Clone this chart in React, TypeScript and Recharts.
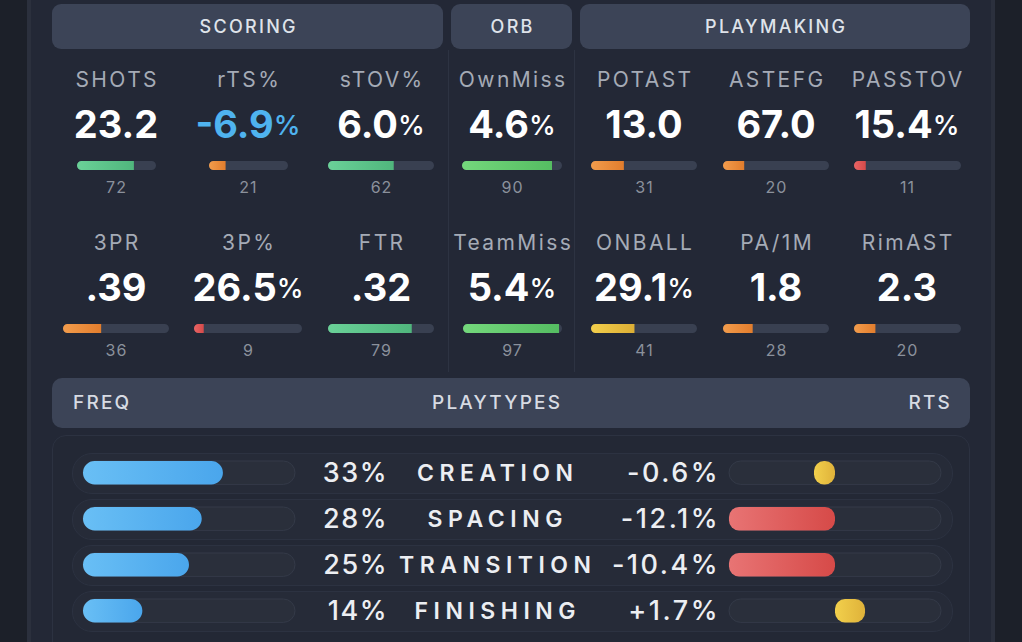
import React from 'react';
import { BarChart, Bar, XAxis, YAxis } from 'recharts';

// ---------- DATA ----------
const groupLabels = ['SCORING', 'ORB', 'PLAYMAKING'];
const statLabels = ['SHOTS', 'rTS%', 'sTOV%', 'OwnMiss', 'POTAST', 'ASTEFG', 'PASSTOV', '3PR', '3P%', 'FTR', 'TeamMiss', 'ONBALL', 'PA/1M', 'RimAST'];
const statValues = ['23.2', '-6.9', '6.0', '4.6', '13.0', '67.0', '15.4', '.39', '26.5', '.32', '5.4', '29.1', '1.8', '2.3'];
const statSuffixes = ['', '%', '%', '%', '', '', '%', '', '%', '', '%', '%', '', ''];
const statPercentiles = [72, 21, 62, 90, 31, 20, 11, 36, 9, 79, 97, 41, 28, 20];
const highlightedStat = 'rTS%';

const playtypeHeaders = ['FREQ', 'PLAYTYPES', 'RTS'];
const playtypeNames = ['CREATION', 'SPACING', 'TRANSITION', 'FINISHING'];
const playtypeFreq = [33, 28, 25, 14];
const playtypeRts = [-0.6, -12.1, -10.4, 1.7];

// ---------- LAYOUT / STYLE ----------
const FONT = 'Inter, "Noto Sans", sans-serif';
const colCenters = [115, 247, 380, 511, 643, 775, 906];
const pctBarWidths = [79, 79, 106, 100, 106, 106, 107, 106, 108, 106, 99, 106, 106, 107];
const rowOffset = 163;
const groupPills = [
  { x: 52, w: 391 },
  { x: 451, w: 121 },
  { x: 580, w: 390 },
];
const FREQ_MAX = 50;
const RTS_LIMIT = 6;

function pctColors(p: number): [string, string] {
  if (p >= 80) return ['#74d87c', '#55bd62'];
  if (p >= 60) return ['#6ad198', '#50b67d'];
  if (p >= 40) return ['#f2cf4c', '#dcae35'];
  if (p >= 20) return ['#f29c4c', '#e27d2d'];
  return ['#ea6464', '#d54a4a'];
}

function PctBar({ value, width, id }: { value: number; width: number; id: string }) {
  const c = pctColors(value);
  return (
    <BarChart layout="vertical" width={width} height={10} data={[{ name: 'p', v: value }]} margin={{ top: 0, right: 0, bottom: 0, left: 0 }}>
      <defs>
        <linearGradient id={id} x1="0" y1="0" x2="1" y2="0">
          <stop offset="0%" stopColor={c[0]} />
          <stop offset="100%" stopColor={c[1]} />
        </linearGradient>
      </defs>
      <XAxis type="number" domain={[0, 100]} hide />
      <YAxis type="category" dataKey="name" hide />
      <Bar dataKey="v" barSize={10} fill={`url(#${id})`} radius={[5, 0, 0, 5]} background={{ fill: '#394051', radius: 5 } as any} isAnimationActive={false} />
    </BarChart>
  );
}

function FreqBar({ value, id }: { value: number; id: string }) {
  return (
    <BarChart layout="vertical" width={214} height={28} data={[{ name: 'f', v: value }]} margin={{ top: 1, right: 1, bottom: 1, left: 1 }}>
      <defs>
        <linearGradient id={id} x1="0" y1="0" x2="1" y2="0">
          <stop offset="0%" stopColor="#69bff5" />
          <stop offset="100%" stopColor="#4aa6ec" />
        </linearGradient>
      </defs>
      <XAxis type="number" domain={[0, FREQ_MAX]} hide />
      <YAxis type="category" dataKey="name" hide />
      <Bar dataKey="v" barSize={26} fill={`url(#${id})`} radius={13} background={{ fill: '#2a2f3b', stroke: '#343a48', strokeWidth: 1, radius: 13 } as any} isAnimationActive={false} />
    </BarChart>
  );
}

function RtsBar({ value, id }: { value: number; id: string }) {
  const v = Math.max(-RTS_LIMIT, Math.min(RTS_LIMIT, value));
  const bad = value <= -5;
  const c0 = bad ? '#e87474' : '#f2d04c';
  const c1 = bad ? '#d64a48' : '#dfb23a';
  return (
    <BarChart layout="vertical" width={214} height={28} data={[{ name: 'r', v }]} margin={{ top: 1, right: 1, bottom: 1, left: 1 }}>
      <defs>
        <linearGradient id={id} x1="0" y1="0" x2="1" y2="0">
          <stop offset="0%" stopColor={c0} />
          <stop offset="100%" stopColor={c1} />
        </linearGradient>
      </defs>
      <XAxis type="number" domain={[-RTS_LIMIT, RTS_LIMIT]} hide />
      <YAxis type="category" dataKey="name" hide />
      <Bar dataKey="v" barSize={26} minPointSize={21} fill={`url(#${id})`} radius={10} background={{ fill: '#2a2f3b', stroke: '#343a48', strokeWidth: 1, radius: 13 } as any} isAnimationActive={false} />
    </BarChart>
  );
}

function CenterText({ cx, cy, w, h, style, children }: any) {
  return (
    <div style={{ position: 'absolute', left: cx - w / 2, top: cy - h / 2, width: w, height: h, lineHeight: `${h}px`, textAlign: 'center', whiteSpace: 'nowrap', ...style }}>
      {children}
    </div>
  );
}

export default function App() {
  return (
    <div style={{ position: 'fixed', left: 0, top: 0, width: 1022, height: 642, overflow: 'hidden', background: '#1c2029', fontFamily: FONT }}>
      {/* card */}
      <div style={{ position: 'absolute', left: 27, top: -10, width: 968, height: 700, background: '#232836', borderLeft: '4px solid #2b303d', borderRight: '4px solid #2b303d', boxSizing: 'border-box' }} />

      {/* group header pills */}
      {groupPills.map((g, i) => (
        <div key={groupLabels[i]} style={{ position: 'absolute', left: g.x, top: 4, width: g.w, height: 45, borderRadius: 9, background: '#3c4457', color: '#dfe3ea', fontSize: 18, fontWeight: 500, letterSpacing: 2.3, lineHeight: '45px', textAlign: 'center', paddingLeft: 2.3, boxSizing: 'border-box' }}>
          {groupLabels[i]}
        </div>
      ))}

      {/* dividers */}
      <div style={{ position: 'absolute', left: 448, top: 50, width: 1, height: 322, background: '#2d3342' }} />
      <div style={{ position: 'absolute', left: 574, top: 50, width: 1, height: 322, background: '#2d3342' }} />

      {/* stats */}
      {statLabels.map((label, i) => {
        const col = i % 7;
        const row = Math.floor(i / 7);
        const cx = colCenters[col];
        const dy = row * rowOffset;
        const bw = pctBarWidths[i];
        const valueColor = label === highlightedStat ? '#4fb3ef' : '#ffffff';
        return (
          <React.Fragment key={label}>
            <CenterText cx={cx + 1} cy={80 + dy} w={130} h={26} style={{ color: '#a5abb6', fontSize: 21, letterSpacing: 2.4, paddingLeft: 2.4, boxSizing: 'border-box' }}>
              {label}
            </CenterText>
            <CenterText cx={cx + 1} cy={124 + dy} w={140} h={44} style={{ color: valueColor, fontSize: 38, fontWeight: 700 }}>
              {statValues[i]}
              {statSuffixes[i] && (
                <span style={{ fontSize: 27, fontWeight: 500, position: 'relative', top: -3 }}>{statSuffixes[i]}</span>
              )}
            </CenterText>
            <div style={{ position: 'absolute', left: cx + 1 - bw / 2, top: 160 + dy }}>
              <PctBar value={statPercentiles[i]} width={bw} id={`pg${i}`} />
            </div>
            <CenterText cx={cx + 1} cy={187 + dy} w={60} h={18} style={{ color: '#8b919c', fontSize: 16, letterSpacing: 1, paddingLeft: 1, boxSizing: 'border-box' }}>
              {statPercentiles[i]}
            </CenterText>
          </React.Fragment>
        );
      })}

      {/* playtypes header */}
      <div style={{ position: 'absolute', left: 52, top: 378, width: 918, height: 50, borderRadius: 10, background: '#3c4457' }} />
      <div style={{ position: 'absolute', left: 73, top: 378, height: 50, lineHeight: '50px', color: '#d7dbe3', fontSize: 19, fontWeight: 500, letterSpacing: 2.2 }}>{playtypeHeaders[0]}</div>
      <CenterText cx={496} cy={403} w={200} h={50} style={{ color: '#d7dbe3', fontSize: 19, fontWeight: 500, letterSpacing: 2.2, paddingLeft: 2.2, boxSizing: 'border-box' }}>{playtypeHeaders[1]}</CenterText>
      <div style={{ position: 'absolute', right: 1022 - 952, top: 378, height: 50, lineHeight: '50px', color: '#d7dbe3', fontSize: 19, fontWeight: 500, letterSpacing: 2.2 }}>{playtypeHeaders[2]}</div>

      {/* playtypes container */}
      <div style={{ position: 'absolute', left: 52, top: 435, width: 918, height: 240, borderRadius: 14, border: '1px solid #2c3241', background: '#232835', boxSizing: 'border-box' }} />

      {playtypeNames.map((name, i) => {
        const cy = 473 + i * 46;
        const r = playtypeRts[i];
        const rtsText = `${r > 0 ? '+' : ''}${r.toFixed(1)}%`;
        return (
          <React.Fragment key={name}>
            <div style={{ position: 'absolute', left: 72, top: cy - 20, width: 881, height: 41, borderRadius: 20, background: '#262b38', border: '1px solid #2c3241', boxSizing: 'border-box' }} />
            <div style={{ position: 'absolute', left: 82, top: cy - 14 }}>
              <FreqBar value={playtypeFreq[i]} id={`fq${i}`} />
            </div>
            <div style={{ position: 'absolute', right: 1022 - 388, top: cy - 17, height: 34, lineHeight: '34px', color: '#eceef2', fontSize: 27, fontWeight: 500, letterSpacing: 1.5, whiteSpace: 'nowrap' }}>
              {playtypeFreq[i]}%
            </div>
            <CenterText cx={495} cy={cy} w={220} h={34} style={{ color: '#eceef2', fontSize: 23, fontWeight: 600, letterSpacing: 5.5, paddingLeft: 5.5, boxSizing: 'border-box' }}>
              {name}
            </CenterText>
            <div style={{ position: 'absolute', right: 1022 - 720, top: cy - 17, height: 34, lineHeight: '34px', color: '#eceef2', fontSize: 27, fontWeight: 500, letterSpacing: 2.5, whiteSpace: 'nowrap' }}>
              {rtsText}
            </div>
            <div style={{ position: 'absolute', left: 728, top: cy - 14 }}>
              <RtsBar value={r} id={`rt${i}`} />
            </div>
          </React.Fragment>
        );
      })}
    </div>
  );
}
